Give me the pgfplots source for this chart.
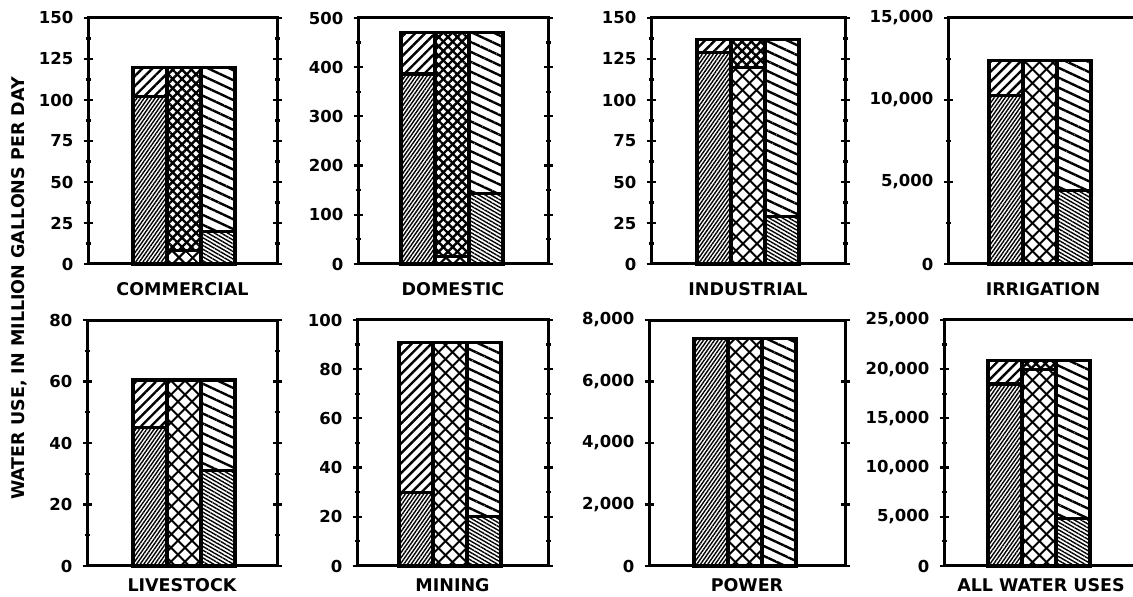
\documentclass[border=0pt]{standalone}
\usepackage{pgfplots}
\pgfplotsset{compat=1.18}
\usepackage{fontspec}
\setmainfont{DejaVu Sans}
\usetikzlibrary{patterns.meta}
\newcommand{\tickfont}{\fontsize{16.5}{16.5}\bfseries\selectfont}
\newcommand{\labfont}{\fontsize{17.5}{17.5}\bfseries\selectfont}
\pgfplotsset{
  panel/.style={scale only axis, height=246pt, xmin=0, ymin=0,
    xtick=\empty, clip=false,
    axis line style={line width=3pt},
    ytick pos=both, tick align=center,
    major tick length=9pt, minor tick length=5pt,
    every tick/.style={line width=2.2pt, black},
    minor y tick num=1,
    scaled y ticks=false,
    yticklabel style={font=\tickfont, inner sep=0pt, xshift=-10pt},
    /pgf/number format/.cd, 1000 sep={,}, assume math mode=true},
  bb/.style={ybar, bar width=34, bar shift=0pt, draw=black, line width=3.2pt, fill=white},
  b1full/.style={bb, postaction={pattern={Lines[angle=45, distance=7pt, line width=2.4pt]}}},
  b1low/.style={bb, postaction={pattern={Lines[angle=55, distance=3pt, line width=1.4pt]}}},
  b2full/.style={bb,
     postaction={pattern={Lines[angle=45, distance=6.6pt, line width=2.4pt]}},
     postaction={pattern={Lines[angle=-45, distance=6.6pt, line width=2.4pt]}}},
  b2low/.style={bb,
     postaction={pattern={Lines[angle=45, distance=10.5pt, line width=2.4pt]}},
     postaction={pattern={Lines[angle=-45, distance=10.5pt, line width=2.4pt]}}},
  b3full/.style={bb, postaction={pattern={Lines[angle=-25, distance=9pt, line width=2.4pt]}}},
  b3low/.style={bb, postaction={pattern={Lines[angle=-30, distance=3.3pt, line width=1.4pt]}}},
}
\begin{document}
\begin{tikzpicture}[x=1pt,y=1pt]
% ---- top row ----
\begin{axis}[panel, at={(88pt,333pt)}, anchor=south west, width=189pt, xmax=189,
  ymax=150, ytick={0,25,...,150}]
\addplot[b1full] coordinates {(62,120)};
\addplot[b1low]  coordinates {(62,102)};
\addplot[b2full] coordinates {(96,120)};
\addplot[b2low]  coordinates {(96,8)};
\addplot[b3full] coordinates {(130,120)};
\addplot[b3low]  coordinates {(130,20)};
\node[font=\labfont] at (rel axis cs:0.5,0) [yshift=-25pt] {COMMERCIAL};
\end{axis}
\begin{axis}[panel, at={(358pt,333pt)}, anchor=south west, width=190pt, xmax=190,
  ymax=500, ytick={0,100,...,500}]
\addplot[b1full] coordinates {(60,471)};
\addplot[b1low]  coordinates {(60,386)};
\addplot[b2full] coordinates {(94,471)};
\addplot[b2low]  coordinates {(94,15)};
\addplot[b3full] coordinates {(128,471)};
\addplot[b3low]  coordinates {(128,143)};
\node[font=\labfont] at (rel axis cs:0.5,0) [yshift=-25pt] {DOMESTIC};
\end{axis}
\begin{axis}[panel, at={(651pt,333pt)}, anchor=south west, width=194pt, xmax=194,
  ymax=150, ytick={0,25,...,150}]
\addplot[b1full] coordinates {(63,137)};
\addplot[b1low]  coordinates {(63,129)};
\addplot[b2full] coordinates {(97,137)};
\addplot[b2low]  coordinates {(97,120)};
\addplot[b3full] coordinates {(131,137)};
\addplot[b3low]  coordinates {(131,29)};
\node[font=\labfont] at (rel axis cs:0.5,0) [yshift=-25pt] {INDUSTRIAL};
\end{axis}
\begin{axis}[panel, at={(948pt,333pt)}, anchor=south west, width=190pt, xmax=190,
  ymax=15000, ytick={0,5000,10000,15000}]
\addplot[b1full] coordinates {(58,12400)};
\addplot[b1low]  coordinates {(58,10250)};
\addplot[b2full] coordinates {(92,12400)};
\addplot[b2low]  coordinates {(92,12400)};
\addplot[b3full] coordinates {(126,12400)};
\addplot[b3low]  coordinates {(126,4500)};
\node[font=\labfont] at (rel axis cs:0.5,0) [yshift=-25pt] {IRRIGATION};
\end{axis}
% ---- bottom row ----
\begin{axis}[panel, at={(87pt,31pt)}, anchor=south west, width=190pt, xmax=190,
  ymax=80, ytick={0,20,...,80}]
\addplot[b1full] coordinates {(63,60.5)};
\addplot[b1low]  coordinates {(63,45)};
\addplot[b2full] coordinates {(97,60.5)};
\addplot[b2low]  coordinates {(97,60.5)};
\addplot[b3full] coordinates {(131,60.5)};
\addplot[b3low]  coordinates {(131,31)};
\node[font=\labfont] at (rel axis cs:0.5,0) [yshift=-19pt] {LIVESTOCK};
\end{axis}
\begin{axis}[panel, at={(357pt,31pt)}, anchor=south west, width=191pt, xmax=191,
  ymax=100, ytick={0,20,...,100}]
\addplot[b1full] coordinates {(59,91)};
\addplot[b1low]  coordinates {(59,30)};
\addplot[b2full] coordinates {(93,91)};
\addplot[b2low]  coordinates {(93,91)};
\addplot[b3full] coordinates {(127,91)};
\addplot[b3low]  coordinates {(127,20)};
\node[font=\labfont] at (rel axis cs:0.5,0) [yshift=-19pt] {MINING};
\end{axis}
\begin{axis}[panel, at={(649pt,31pt)}, anchor=south west, width=196pt, xmax=196,
  ymax=8000, ytick={0,2000,...,8000}, minor y tick num=0]
\addplot[b1full] coordinates {(62,7400)};
\addplot[b1low]  coordinates {(62,7400)};
\addplot[b2full] coordinates {(96,7400)};
\addplot[b2low]  coordinates {(96,7400)};
\addplot[b3full] coordinates {(130,7400)};
\node[font=\labfont] at (rel axis cs:0.5,0) [yshift=-19pt] {POWER};
\end{axis}
\begin{axis}[panel, at={(944pt,31pt)}, anchor=south west, width=194pt, xmax=194,
  ymax=25000, ytick={0,5000,...,25000}]
\addplot[b1full] coordinates {(61,20900)};
\addplot[b1low]  coordinates {(61,18500)};
\addplot[b2full] coordinates {(95,20900)};
\addplot[b2low]  coordinates {(95,20000)};
\addplot[b3full] coordinates {(129,20900)};
\addplot[b3low]  coordinates {(129,4800)};
\node[font=\labfont] at (rel axis cs:0.5,0) [yshift=-19pt] {ALL WATER USES};
\end{axis}
\node[rotate=90, font=\labfont] at (19pt,308.5pt) {WATER USE, IN MILLION GALLONS PER DAY};
\pgfresetboundingbox
\path[use as bounding box] (0pt,0pt) rectangle (1133pt,597pt);
\end{tikzpicture}
\end{document}
